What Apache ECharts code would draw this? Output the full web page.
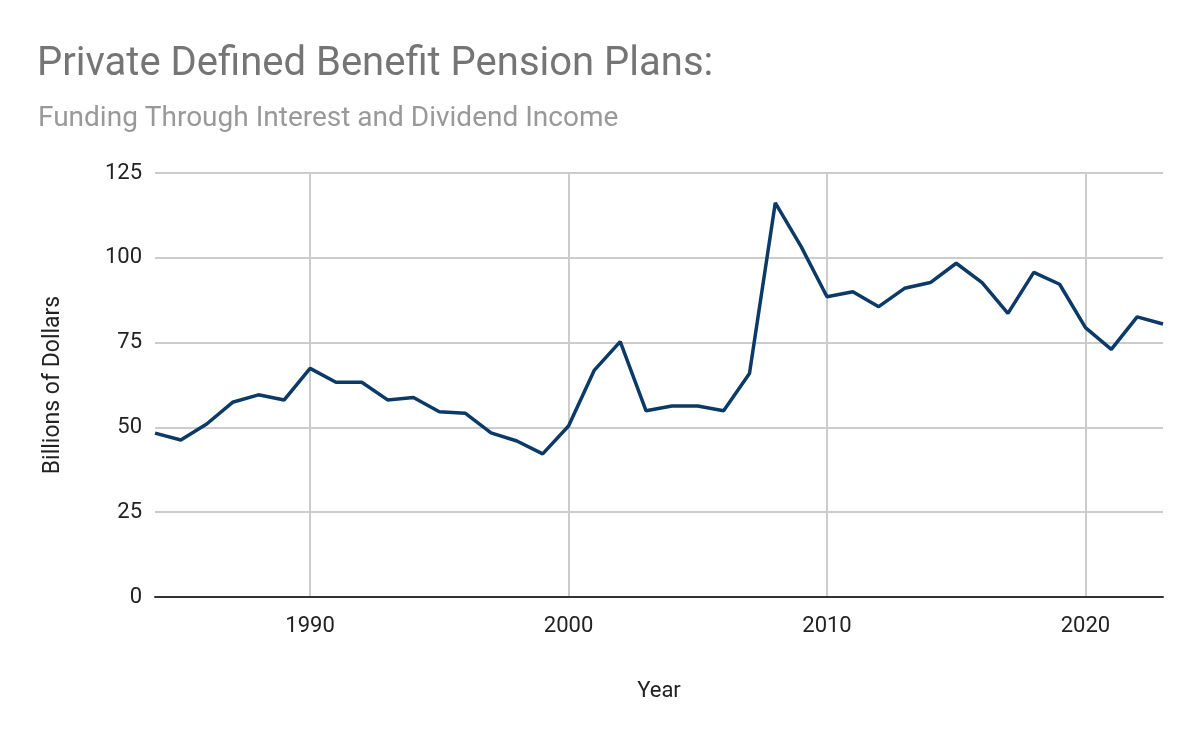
<!DOCTYPE html>
<html><head><meta charset="utf-8">
<script src="https://cdn.jsdelivr.net/npm/echarts@6/dist/echarts.min.js"></script>
<style>html,body{margin:0;padding:0;background:#fff}#c{width:1200px;height:742px}</style>
</head><body><div id="c"></div>
<script>
const years = [];
for (let y = 1984; y <= 2023; y++) years.push(String(y));
const values = [48.3,46.3,51.0,57.4,59.6,58.1,67.4,63.3,63.3,58.1,58.8,54.6,54.2,48.4,46.0,42.2,50.4,66.9,75.3,54.9,56.3,56.3,54.9,65.9,116.2,103.3,88.5,90.0,85.6,91.0,92.7,98.4,92.7,83.6,95.7,92.2,79.4,73.0,82.6,80.5];
const titleText = 'Private Defined Benefit Pension Plans:';
const subtitleText = 'Funding Through Interest and Dividend Income';
const xName = 'Year';
const yName = 'Billions of Dollars';

const chart = echarts.init(document.getElementById('c'));
const font = 'Roboto';
const isDecade = (i, v) => Number(v) % 10 === 0;
chart.setOption({
  animation: false,
  title: [
    {text: titleText, left: 32, top: 40, textStyle: {fontFamily: font, fontSize: 40, fontWeight: 'normal', color: '#757575'}},
    {text: subtitleText, left: 33, top: 100, textStyle: {fontFamily: font, fontSize: 28, fontWeight: 'normal', color: '#999999'}}
  ],
  grid: {left: 155, right: 37, top: 173, bottom: 145},
  xAxis: {
    type: 'category', data: years, boundaryGap: false,
    name: xName, nameLocation: 'middle', nameGap: 83,
    nameTextStyle: {fontFamily: font, fontSize: 22, color: '#222'},
    axisLine: {show: true, lineStyle: {color: '#333333', width: 2}},
    axisTick: {show: false},
    axisLabel: {interval: isDecade, fontFamily: font, fontSize: 22, color: '#222', margin: 18},
    splitLine: {show: true, interval: isDecade, lineStyle: {color: '#cccccc', width: 2}}
  },
  yAxis: {
    type: 'value', min: 0, max: 125, interval: 25,
    name: yName, nameLocation: 'middle', nameGap: 90,
    nameTextStyle: {fontFamily: font, fontSize: 23, color: '#222'},
    axisLine: {show: false}, axisTick: {show: false},
    axisLabel: {fontFamily: font, fontSize: 22, color: '#222', margin: 13},
    splitLine: {show: true, lineStyle: {color: '#cccccc', width: 2}}
  },
  series: [{
    type: 'line', data: values, showSymbol: false,
    lineStyle: {color: '#0b3a66', width: 3.5}, itemStyle: {color: '#0b3a66'}
  }]
});
</script></body></html>
